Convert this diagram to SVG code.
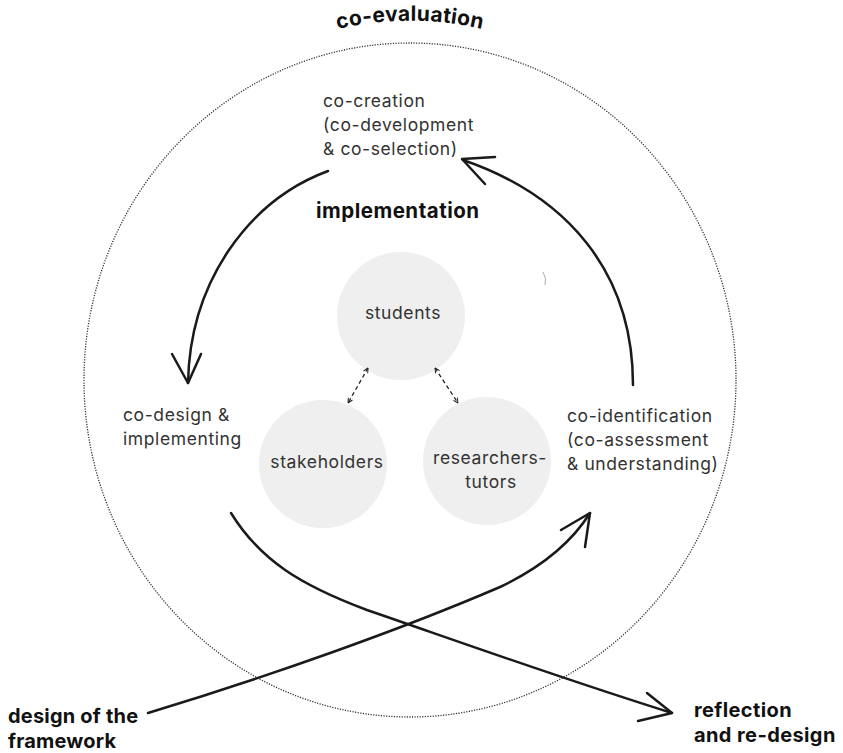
<svg xmlns="http://www.w3.org/2000/svg" width="843" height="753" viewBox="0 0 843 753">
<defs>
<style>
.t{font-family:Inter,"Open Sans","Liberation Sans",sans-serif;font-size:17.5px;letter-spacing:0.6px;fill:#333}
.b{font-family:Inter,"Open Sans","Liberation Sans",sans-serif;font-weight:700;fill:#111}
.node{fill:#efefef}
.arc{fill:none;stroke:#1a1a1a;stroke-width:2.5;stroke-linecap:round;stroke-linejoin:round}
.dash{fill:none;stroke:#222;stroke-width:1.3;stroke-dasharray:4 3}
.dot{fill:none;stroke:#333;stroke-width:1.3;stroke-dasharray:1.2 1.4}
</style>
<marker id="ah" viewBox="0 0 10 10" refX="9" refY="5" markerWidth="6" markerHeight="6" orient="auto-start-reverse" markerUnits="userSpaceOnUse">
<path d="M1,1 L9,5 L1,9" fill="none" stroke="#222" stroke-width="1.6"/>
</marker>
<path id="evalArc" d="M 270,53 A 320,320 0 0 1 550,53"/>
</defs>
<rect width="843" height="753" fill="#fff"/>

<g id="co-evaluation">
<ellipse class="dot" cx="410" cy="380" rx="326" ry="337"/>
<text class="b" font-size="21" letter-spacing="0.3"><textPath href="#evalArc" startOffset="50%" text-anchor="middle">co-evaluation</textPath></text>
</g>

<g id="implementation">
<text class="b" x="316" y="218" font-size="20.5" letter-spacing="0.5">implementation</text>
</g>

<g id="co-creation">
<text class="t" x="323" y="107">co-creation</text>
<text class="t" x="323" y="131">(co-development</text>
<text class="t" x="323" y="155">&amp; co-selection)</text>
</g>

<g id="co-design">
<text class="t" x="123" y="421">co-design &amp;</text>
<text class="t" x="123" y="445">implementing</text>
</g>

<g id="co-identification">
<text class="t" x="567" y="422">co-identification</text>
<text class="t" x="567" y="446">(co-assessment</text>
<text class="t" x="567" y="470">&amp; understanding)</text>
</g>

<g id="students">
<circle class="node" cx="401" cy="316" r="64"/>
<text class="t" x="403" y="319" text-anchor="middle">students</text>
</g>

<g id="stakeholders">
<circle class="node" cx="323" cy="464" r="64"/>
<text class="t" x="327" y="468" text-anchor="middle">stakeholders</text>
</g>

<g id="researchers-tutors">
<circle class="node" cx="487" cy="461" r="64"/>
<text class="t" x="490" y="464" text-anchor="middle">researchers-</text>
<text class="t" x="491" y="488" text-anchor="middle">tutors</text>
</g>

<g id="design-of-the-framework">
<text class="b" x="8" y="723" font-size="20" letter-spacing="0.2">design of the</text>
<text class="b" x="8" y="748" font-size="20" letter-spacing="0.2">framework</text>
</g>

<g id="reflection">
<text class="b" x="694" y="717" font-size="20" letter-spacing="0.4">reflection</text>
<text class="b" x="694" y="742" font-size="20" letter-spacing="0.4">and re-design</text>
</g>

<g id="connectors">
<path class="arc" d="M328,171 C250,200 190,280 188,383"/>
<polyline class="arc" points="172,354 188,383 201,354"/>
<path class="arc" d="M633,385 C633,270 565,195 463,160"/>
<polyline class="arc" points="495,157 462,159 485,184"/>
<path class="arc" d="M231,513 C260,560 300,585 367,610 C460,642 560,678 672,713"/>
<polyline class="arc" points="647,693 672,713 638,721"/>
<path class="arc" d="M148,713 C270,676 400,630 500,587 C540,568 570,545 590,513"/>
<polyline class="arc" points="561,530 590,513 585,547"/>
<line class="dash" x1="368" y1="368" x2="348" y2="403" marker-start="url(#ah)" marker-end="url(#ah)"/>
<line class="dash" x1="435" y1="368" x2="458" y2="403" marker-start="url(#ah)" marker-end="url(#ah)"/>
<path d="M543,272 Q547,278 545,285" fill="none" stroke="#aaa" stroke-width="1"/>
</g>
</svg>
